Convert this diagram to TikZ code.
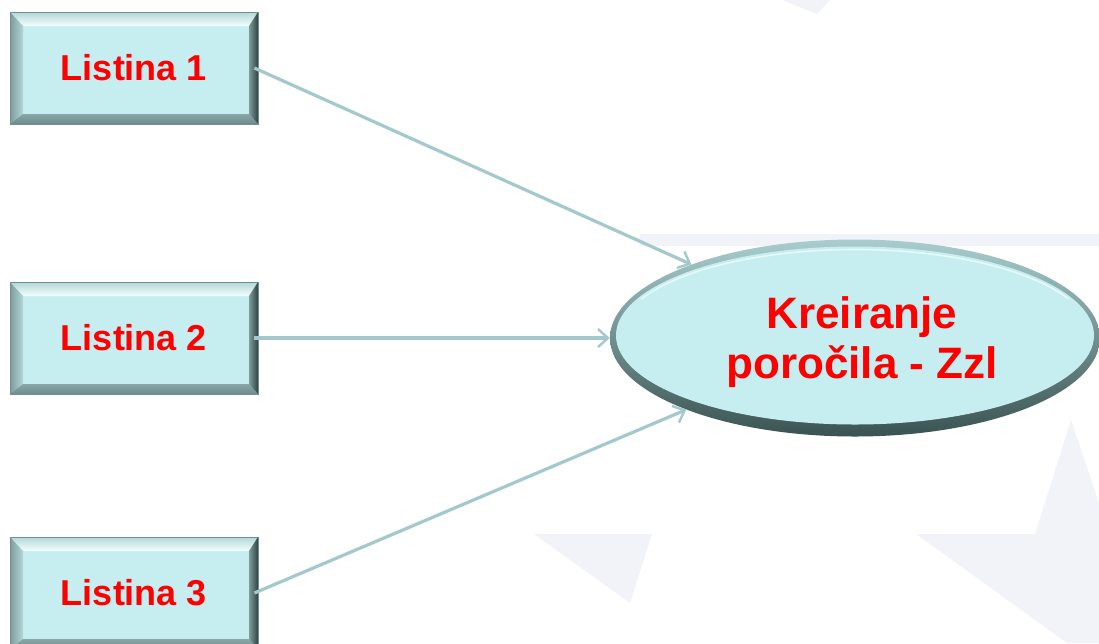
\documentclass[tikz,border=0pt]{standalone}
\usepackage{fontspec}
\setmainfont{Liberation Sans}
\usetikzlibrary{shapes.geometric,arrows.meta,calc}
\definecolor{face}{HTML}{C6EEF0}
\definecolor{bgstar}{HTML}{F2F3F8}
\definecolor{arrowc}{HTML}{A3C9CC}
\definecolor{bevtop}{HTML}{F4FFFF}
\definecolor{bevleftout}{HTML}{7C9C9C}
\definecolor{bevleftin}{HTML}{B4D6D7}
\definecolor{bevbot}{HTML}{8AA6A7}
\definecolor{bevbotout}{HTML}{6E8C8C}
\definecolor{bevrightin}{HTML}{7E9B9B}
\definecolor{bevrightout}{HTML}{2F4343}
\definecolor{rimline}{HTML}{6F8F90}
\definecolor{rimtop}{HTML}{A9CDCE}
\definecolor{rimmid}{HTML}{98BDBE}
\definecolor{rimbot}{HTML}{3A5252}
\definecolor{txtred}{HTML}{FF0000}
\tikzset{
  bevelbox/.style={rectangle, minimum width=248pt, minimum height=112pt,
    inner sep=0pt, fill=face, draw=rimline, line width=0.8pt, text=txtred,
    font=\fontsize{36}{40}\selectfont\bfseries,
    path picture={
      \path (path picture bounding box.north west) coordinate (bvNW)
            (path picture bounding box.north east) coordinate (bvNE)
            (path picture bounding box.south west) coordinate (bvSW)
            (path picture bounding box.south east) coordinate (bvSE);
      \shade[top color=bevleftin, bottom color=bevtop]
        (bvNW) -- (bvNE) -- ($(bvNE)+(-9pt,-14pt)$) -- ($(bvNW)+(13pt,-14pt)$) -- cycle;
      \shade[left color=bevleftout, right color=bevleftin]
        (bvNW) -- ($(bvNW)+(13pt,-14pt)$) -- ($(bvSW)+(13pt,10pt)$) -- (bvSW) -- cycle;
      \shade[top color=bevbot, bottom color=bevbotout]
        (bvSW) -- ($(bvSW)+(13pt,10pt)$) -- ($(bvSE)+(-9pt,10pt)$) -- (bvSE) -- cycle;
      \shade[left color=bevrightin, right color=bevrightout]
        (bvNE) -- ($(bvNE)+(-9pt,-14pt)$) -- ($(bvSE)+(-9pt,10pt)$) -- (bvSE) -- cycle;
    }},
  ellnode/.style={ellipse, minimum width=490pt, minimum height=197pt,
    inner sep=0pt, top color=rimtop, middle color=rimmid, bottom color=rimbot,
    path picture={
      \coordinate (elC) at (path picture bounding box.center);
      \fill[face] ($(elC)+(0,2.5pt)$) ellipse [x radius=239pt, y radius=89pt];
      \draw[white, opacity=0.6, line width=1.6pt]
        ($(elC)+(0,2.5pt)+(25:236pt and 86pt)$)
        arc[start angle=25, end angle=155, x radius=236pt, y radius=86pt];
    }},
  elltext/.style={text=txtred, align=center, inner sep=0pt,
    font=\fontsize{44}{50}\selectfont\bfseries},
  conn/.style={draw=arrowc, line width=3.2pt,
    -{Straight Barb[length=10pt, width=18pt, line width=2.4pt]}},
  bgshape/.style={fill=bgstar, draw=none},
}
\begin{document}
\begin{tikzpicture}[x=1pt, y=-1pt]
  \useasboundingbox (0,0) rectangle (1099,643);
  \clip (0,0) rectangle (1099,643);
  \fill[white] (0,0) rectangle (1099,643);
  % faint background shapes
  \path[bgshape] (782,0) -- (830,0) -- (817,14) -- cycle;
  \path[bgshape] (640,234) rectangle (1099,246);
  \path[bgshape] (534,534) -- (652,534) -- (630,603) -- cycle;
  \path[bgshape] (916,534) -- (1035,534) -- (1071,420) -- (1099,503)
                 -- (1099,643) -- (1067,643) -- cycle;
  % nodes
  \node[bevelbox] (l1) at (134,68) {Listina 1};
  \node[bevelbox] (l2) at (134,338) {Listina 2};
  \node[bevelbox] (l3) at (134,593) {Listina 3};
  \node[ellnode] (ell) at (855,338) {};
  \node[elltext] (elltxt) at (862,342) {Kreiranje\\poročila - Zzl};
  % connectors
  \draw[conn] ([xshift=-4pt]l1.east) -- (ell);
  \draw[conn] ([xshift=-4pt]l2.east) -- (ell);
  \draw[conn] ([xshift=-4pt]l3.east) -- (ell);
\end{tikzpicture}
\end{document}
